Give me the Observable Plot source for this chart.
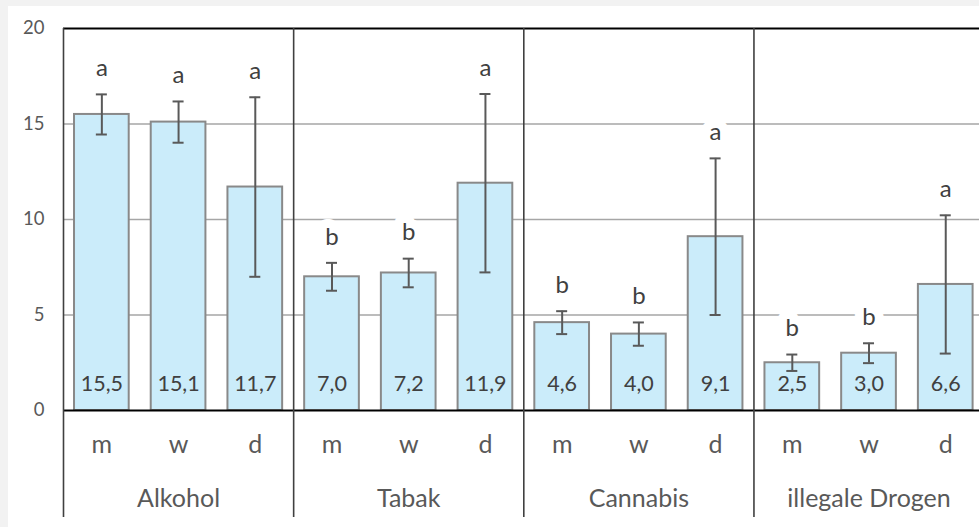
<!DOCTYPE html>
<html><head><meta charset="utf-8">
<script src="https://cdn.jsdelivr.net/npm/d3@7"></script>
<script src="https://cdn.jsdelivr.net/npm/@observablehq/plot@0.6"></script>
<style>
html,body{margin:0;padding:0;background:#f2f2f2;width:979px;height:527px;overflow:hidden}
#panel{position:absolute;left:8px;top:6px;width:971px;height:521px;background:#fff;overflow:hidden}
</style></head><body><div id="panel"></div>
<script>
const groups = ["Alkohol", "Tabak", "Cannabis", "illegale Drogen"];
const sexes = ["m", "w", "d"];
const means = [15.5, 15.1, 11.7, 7.0, 7.2, 11.9, 4.6, 4.0, 9.1, 2.5, 3.0, 6.6];
const errors = [1.05, 1.08, 4.7, 0.73, 0.75, 4.67, 0.6, 0.61, 4.1, 0.43, 0.52, 3.62];
const letters = ["a", "a", "a", "b", "b", "a", "b", "b", "a", "b", "b", "a"];
const yTicks = [0, 5, 10, 15, 20];
const gridTicks = [5, 10, 15];

const rows = [];
groups.forEach((g, gi) => sexes.forEach((s, si) => {
  const i = gi * 3 + si;
  rows.push({key: g + "|" + s, group: g, sex: s, mean: means[i], err: errors[i], letter: letters[i]});
}));
const keys = rows.map(d => d.key);
const x0 = 55, x1 = 975.6;
const step = (x1 - x0) / keys.length;
const capInset = (step - 11) / 2;

const chart = Plot.plot({
  width: 971, height: 521,
  marginLeft: 55, marginRight: 0, marginTop: 22, marginBottom: 117,
  style: {fontFamily: "Lato, sans-serif", background: "transparent", color: "#595959", overflow: "hidden"},
  x: {domain: keys, range: [x0, x1], paddingInner: 0.287, paddingOuter: 0.1435, round: false},
  y: {domain: [0, 20]},
  marks: [
    Plot.ruleY(gridTicks, {stroke: "#a6a6a6", strokeWidth: 1.3}),
    Plot.barY(rows, {x: "key", y: "mean", fill: "#cbecfa", stroke: "#898989", strokeWidth: 2}),
    Plot.ruleX(rows, {x: "key", y1: d => d.mean - d.err, y2: d => d.mean + d.err, stroke: "#595959", strokeWidth: 2}),
    Plot.tickY(rows, {x: "key", y: d => d.mean - d.err, stroke: "#595959", strokeWidth: 2, insetLeft: capInset, insetRight: capInset}),
    Plot.tickY(rows, {x: "key", y: d => d.mean + d.err, stroke: "#595959", strokeWidth: 2, insetLeft: capInset, insetRight: capInset}),
    Plot.text(rows, {x: "key", y: d => d.mean + d.err, text: "letter", dy: -26, fontSize: 24, fill: "#404040", stroke: "white", strokeWidth: 18, strokeLinejoin: "round"}),
    Plot.text(rows, {x: "key", y: 0, text: d => d.mean.toFixed(1).replace(".", ","), dy: -26, fontSize: 21.5, fill: "#404040"}),
    Plot.ruleY([0], {stroke: "#000", strokeWidth: 1.8}),
    Plot.ruleY([20], {stroke: "#000", strokeWidth: 1.8}),
    Plot.ruleX(rows.filter(d => d.sex === "m"), {x: "key", dx: -step / 2, stroke: "#404040", strokeWidth: 1.6, insetBottom: -107}),
    Plot.axisY({ticks: yTicks, tickSize: 0, tickPadding: 19, fontSize: 18.5, label: null}),
    Plot.axisX({tickSize: 0, tickPadding: 25, fontSize: 25, tickFormat: d => d.split("|")[1], label: null}),
    Plot.text(rows.filter(d => d.sex === "w"), {x: "key", text: "group", frameAnchor: "bottom", lineAnchor: "top", dy: 79, fontSize: 25, fill: "#595959"})
  ]
});
document.getElementById("panel").appendChild(chart);
</script>
</body></html>
